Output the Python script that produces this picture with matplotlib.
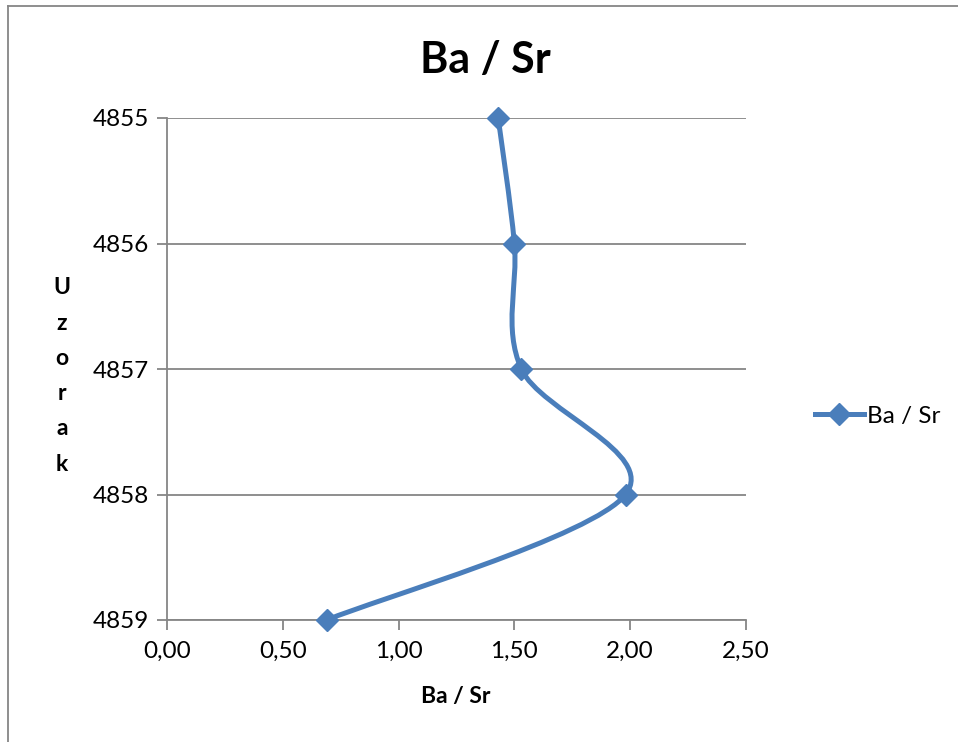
import matplotlib.pyplot as plt
from matplotlib.path import Path
from matplotlib.patches import PathPatch
from matplotlib.lines import Line2D
import numpy as np

plt.rcParams['font.family'] = ['Lato', 'DejaVu Sans']

# data
ba_sr = [1.43, 1.50, 1.53, 1.98, 0.69]
depth = [4855, 4856, 4857, 4858, 4859]
xticks = [0.0, 0.5, 1.0, 1.5, 2.0, 2.5]
yticks = [4855, 4856, 4857, 4858, 4859]

blue = '#4a7ebb'
gray = '#868686'

fig = plt.figure(figsize=(9.58, 7.42), dpi=100)
W, H = 958, 742
ax = fig.add_axes([167 / W, 1 - 620 / H, (746 - 167) / W, (620 - 118) / H])

# smooth line through points (Catmull-Rom as bezier, like Excel "smoothed line")
pts = np.column_stack([ba_sr, depth]).astype(float)
verts = [pts[0]]
codes = [Path.MOVETO]
n = len(pts)
for i in range(n - 1):
    p0 = pts[i - 1] if i > 0 else pts[i]
    p1 = pts[i]
    p2 = pts[i + 1]
    p3 = pts[i + 2] if i + 2 < n else pts[i + 1]
    c1 = p1 + (p2 - p0) / 6
    c2 = p2 - (p3 - p1) / 6
    verts += [c1, c2, p2]
    codes += [Path.CURVE4] * 3
ax.add_patch(PathPatch(Path(verts, codes), fill=False, edgecolor=blue,
                       lw=3.6, capstyle='round', joinstyle='round', zorder=3,
                       clip_on=False))
ax.plot(ba_sr, depth, ls='none', marker='D', ms=11.5, color=blue, zorder=4,
        clip_on=False)

ax.set_xlim(0, 2.5)
ax.set_ylim(4859, 4855)
ax.set_xticks(xticks)
ax.set_yticks(yticks)
ax.set_xticklabels([('%.2f' % v).replace('.', ',') for v in xticks])
ax.set_yticklabels([str(v) for v in yticks])
ax.grid(axis='y', color=gray, lw=1.3)
ax.set_axisbelow(True)
for s in ['top', 'right']:
    ax.spines[s].set_visible(False)
for s in ['left', 'bottom']:
    ax.spines[s].set_color(gray)
    ax.spines[s].set_linewidth(1.3)
ax.tick_params(axis='both', direction='out', length=7, width=1.3, color=gray,
               labelsize=17.5, pad=6)
ax.tick_params(axis='x', pad=8)

fig.text(485 / W, 1 - 60 / H, 'Ba / Sr', ha='center', va='center',
         fontsize=31, fontweight='bold')
fig.text(456 / W, 1 - 697 / H, 'Ba / Sr', ha='center', va='center',
         fontsize=16.5, fontweight='bold')
fig.text(62 / W, 1 - 376 / H, '\n'.join('Uzorak'), ha='center', va='center',
         fontsize=16.5, fontweight='bold', linespacing=1.84)

# legend
leg = ax.legend([Line2D([], [], color=blue, lw=3.6, marker='D', ms=11.5)],
                ['Ba / Sr'], loc='center left', bbox_to_anchor=(798 / W, 1 - 416 / H),
                bbox_transform=fig.transFigure, frameon=False, fontsize=17.5,
                handlelength=2.0, handletextpad=0.15, borderpad=0.2)

# outer chart border (left and top visible)
fig.add_artist(Line2D([8 / W, 8 / W], [0, 1 - 6 / H], color=gray, lw=1.3))
fig.add_artist(Line2D([8 / W, 1], [1 - 6 / H, 1 - 6 / H], color=gray, lw=1.3))

fig.savefig('out.png', dpi=100)
